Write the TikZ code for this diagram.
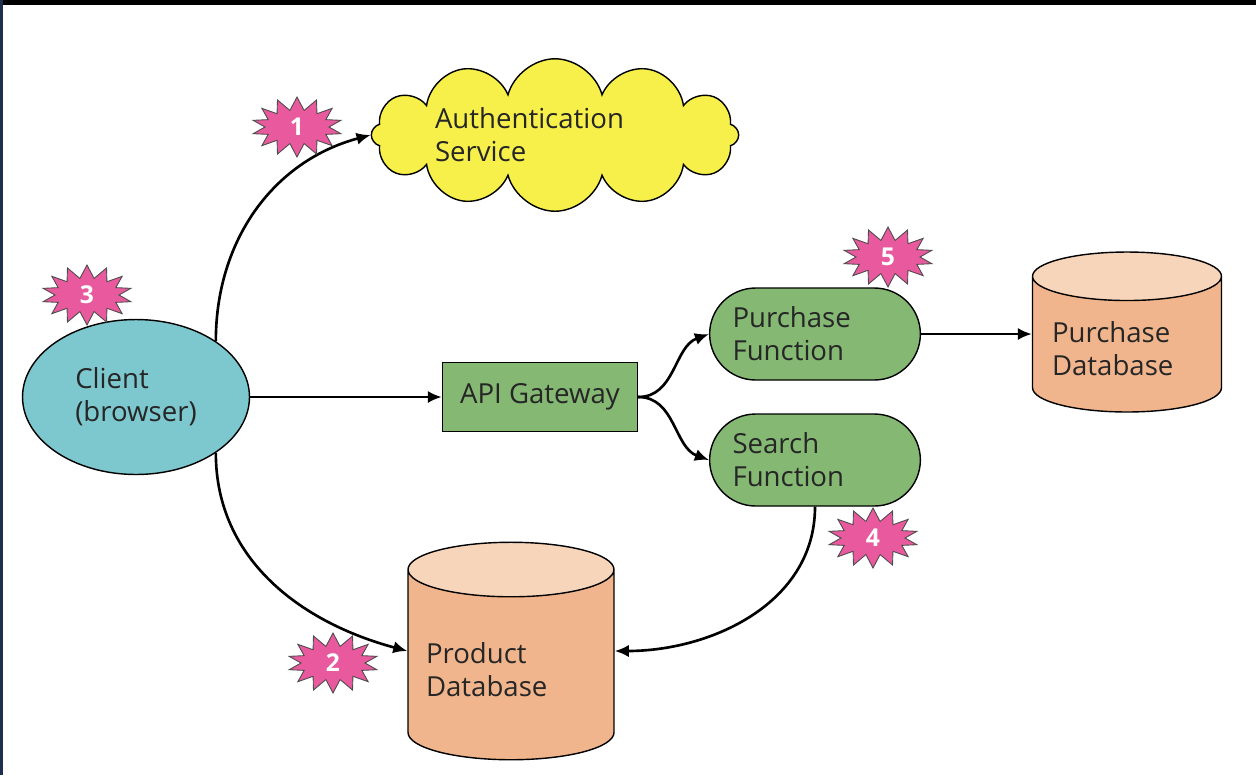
\documentclass[tikz,border=0pt]{standalone}
\usepackage{fontspec}
\setmainfont{Open Sans}
\usetikzlibrary{shapes.geometric,shapes.symbols,shapes.misc,arrows.meta}
\definecolor{authyellow}{HTML}{F7F04A}
\definecolor{clientblue}{HTML}{7DC7CE}
\definecolor{fngreen}{HTML}{84B873}
\definecolor{dbbody}{HTML}{F0B58C}
\definecolor{dbtop}{HTML}{F6D5BA}
\definecolor{badgepink}{HTML}{E9599D}
\definecolor{framebar}{HTML}{1F2D4E}
\tikzset{
  part/.style={draw,line width=0.8pt,text=black!85,align=left,
    font=\fontsize{15.7}{18.7}\selectfont},
  fnbox/.style={part,rounded rectangle,fill=fngreen,minimum width=4.45cm,
    minimum height=1.84cm,text width=3.3cm},
  dbcyl/.style={part,cylinder,shape border rotate=90,aspect=0.3,anchor=shape center,
    cylinder uses custom fill,cylinder body fill=dbbody,cylinder end fill=dbtop},
  badge/.style={starburst,starburst points=14,starburst point height=0.26cm,
    random starburst=0,fill=badgepink,draw=black!70,line width=0.5pt,
    minimum width=1.8cm,minimum height=1.2cm,inner sep=0pt,text=white,
    font=\fontsize{14}{14}\selectfont\bfseries}
}

\begin{document}
\begin{tikzpicture}[x=0.02cm,y=-0.02cm,>={Latex[length=8pt,width=7pt]}]
  \useasboundingbox (0,0) rectangle (1256,775);
  \fill[black] (0,0) rectangle (1256,5);
  \fill[framebar] (0,0) rectangle (3,775);

  \node[part,cloud,cloud puffs=12,cloud ignores aspect,fill=authyellow,inner sep=0pt,
    minimum width=7.35cm,minimum height=3.05cm,text width=4.8cm] (auth) at (555,135)
    {Authentication\\Service};
  \node[part,ellipse,fill=clientblue,minimum width=4.54cm,minimum height=3.1cm]
    (client) at (136,397) {Client\\(browser)};
  \node[part,rectangle,fill=fngreen,minimum width=3.9cm,minimum height=1.38cm]
    (api) at (540,397) {API Gateway};
  \node[fnbox] (purch) at (815,334) {Purchase\\Function};
  \node[fnbox] (search) at (815,460) {Search\\Function};
  \node[dbcyl,minimum width=3.78cm,minimum height=3.2cm,text width=3.0cm]
    (purchdb) at (1127,332) {Purchase\\Database};
  \node[dbcyl,minimum width=4.12cm,minimum height=4.35cm,text width=3.4cm]
    (proddb) at (511,651) {Product\\Database};

  \draw[->,line width=1.5pt] (client.35) to[out=90,in=195] (auth.west);
  \draw[->,line width=1.5pt] (client.-35) to[out=-90,in=165]
    (proddb.shape center -| proddb.west);
  \draw[->,line width=1.5pt] (client.east) -- (api.west);
  \draw[->,line width=1.5pt] (api.east) to[out=0,in=200] (purch.west);
  \draw[->,line width=1.5pt] (api.east) to[out=0,in=160] (search.west);
  \draw[->,line width=1.5pt] (purch.east) -- (purch.east -| purchdb.west);
  \draw[->,line width=1.5pt] (search.south) to[out=-90,in=0]
    (proddb.shape center -| proddb.east);

  \node[badge] (s1) at (297,127) {1};
  \node[badge] (s2) at (333,663) {2};
  \node[badge] (s3) at (87,295) {3};
  \node[badge] (s4) at (873,538) {4};
  \node[badge] (s5) at (888,257) {5};
\end{tikzpicture}
\end{document}
